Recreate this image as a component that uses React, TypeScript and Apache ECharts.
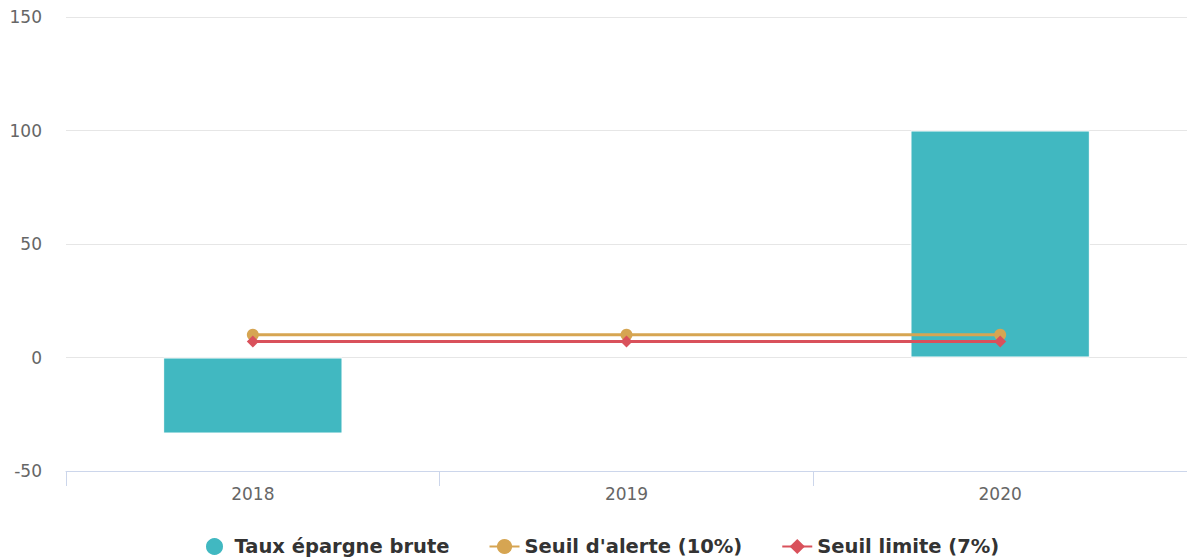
import React, { useEffect, useRef } from "react";
import * as echarts from "echarts";

const categories = ["2018", "2019", "2020"];
const tauxEpargne = [-33.5, null, 100];
const seuilAlerte = [10, 10, 10];
const seuilLimite = [7, 7, 7];
const yTicks = { min: -50, max: 150, interval: 50 };

export default function App() {
  const ref = useRef<HTMLDivElement>(null);
  useEffect(() => {
    if (!ref.current) return;
    const chart = echarts.init(ref.current, undefined, { renderer: "svg" });
    chart.setOption({
      animation: false,
      textStyle: { fontFamily: "DejaVu Sans" },
      grid: { left: 66, right: 0, top: 17, bottom: 89, containLabel: false },
      legend: {
        bottom: -2,
        left: 199,
        itemGap: 39,
        itemWidth: 30,
        itemHeight: 19,
        textStyle: { fontSize: 19.5, fontWeight: "bold", color: "#333", fontFamily: "DejaVu Sans" },
        data: [
          { name: "Taux épargne brute", icon: "circle" },
          { name: "Seuil d'alerte (10%)" },
          { name: "Seuil limite (7%)" },
        ],
      },
      xAxis: {
        type: "category",
        data: categories,
        boundaryGap: true,
        axisLine: { onZero: false, lineStyle: { color: "#ccd6eb", width: 1 } },
        axisTick: { show: true, length: 15, lineStyle: { color: "#ccd6eb" } },
        axisLabel: { color: "#666", fontSize: 17, margin: 14 },
      },
      yAxis: {
        type: "value",
        min: yTicks.min,
        max: yTicks.max,
        interval: yTicks.interval,
        axisLine: { show: false },
        axisTick: { show: false },
        axisLabel: { color: "#666", fontSize: 17, margin: 24 },
        splitLine: { lineStyle: { color: "#e6e6e6" } },
      },
      series: [
        {
          name: "Taux épargne brute",
          type: "bar",
          data: tauxEpargne,
          barWidth: "48%",
          itemStyle: { color: "#41b8c1", borderColor: "#ffffff", borderWidth: 1 },
        },
        {
          name: "Seuil d'alerte (10%)",
          type: "line",
          data: seuilAlerte,
          symbol: "circle",
          symbolSize: 12,
          lineStyle: { color: "#d6a552", width: 3 },
          itemStyle: { color: "#d6a552" },
        },
        {
          name: "Seuil limite (7%)",
          type: "line",
          data: seuilLimite,
          symbol: "diamond",
          symbolSize: 12,
          lineStyle: { color: "#d9515b", width: 3 },
          itemStyle: { color: "#d9515b" },
        },
      ],
    });
    return () => chart.dispose();
  }, []);
  return (
    <div
      ref={ref}
      style={{ position: "absolute", left: 0, top: 0, width: 1187, height: 560 }}
    />
  );
}
